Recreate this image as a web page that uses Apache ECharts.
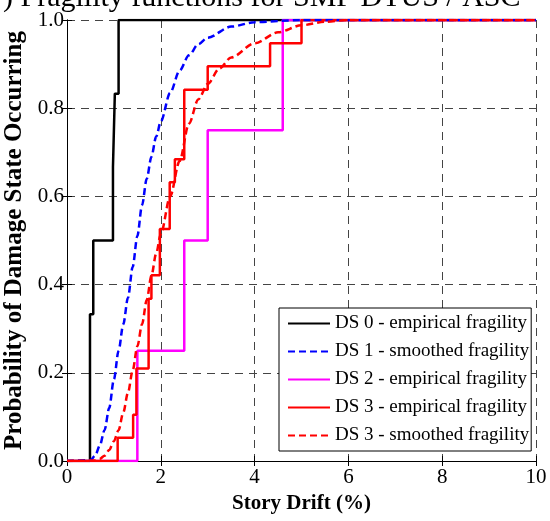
<!DOCTYPE html>
<html>
<head>
<meta charset="utf-8">
<script src="https://cdn.jsdelivr.net/npm/echarts@6/dist/echarts.min.js"></script>
<style>
  html, body { margin: 0; padding: 0; background: #fff; }
  #chart { width: 550px; height: 521px; }
</style>
</head>
<body>
<div id="chart"></div>
<script>
// DS 0 empirical (step)
var ds0X = [0, 0.49, 0.49, 0.56, 0.56, 0.98, 0.98, 1.02, 1.02, 1.1, 1.1, 10];
var ds0Y = [0, 0, 0.333, 0.333, 0.5, 0.5, 0.667, 0.667, 0.833, 0.833, 1, 1];

// DS 1 smoothed
var ds1X = [0, 0.5, 0.6, 0.7, 0.8, 0.9, 1.0, 1.1, 1.2, 1.3, 1.4, 1.5, 1.6, 1.7, 1.8, 1.9, 2.0, 2.2, 2.4, 2.6, 2.8, 3.0, 3.5, 4.0, 5.0, 10];
var ds1Y = [0, 0.002, 0.012, 0.035, 0.07, 0.12, 0.185, 0.25, 0.31, 0.37, 0.44, 0.51, 0.58, 0.64, 0.69, 0.735, 0.77, 0.835, 0.885, 0.92, 0.945, 0.96, 0.985, 0.995, 1, 1];

// DS 2 empirical (step)
var ds2X = [0, 1.5, 1.5, 2.5, 2.5, 3.0, 3.0, 4.6, 4.6, 10];
var ds2Y = [0, 0, 0.25, 0.25, 0.5, 0.5, 0.75, 0.75, 1, 1];

// DS 3 empirical (step)
var ds3X = [0, 1.08, 1.08, 1.41, 1.41, 1.48, 1.48, 1.74, 1.74, 1.8, 1.8, 1.98, 1.98, 2.19, 2.19, 2.3, 2.3, 2.5, 2.5, 3.0, 3.0, 4.33, 4.33, 5.0, 5.0, 10];
var ds3Y = [0, 0, 0.053, 0.053, 0.105, 0.105, 0.21, 0.21, 0.368, 0.368, 0.421, 0.421, 0.526, 0.526, 0.632, 0.632, 0.684, 0.684, 0.842, 0.842, 0.895, 0.895, 0.947, 0.947, 1, 1];

// DS 3 smoothed
var ds3sX = [0, 0.6, 0.7, 0.8, 0.9, 1.0, 1.1, 1.2, 1.3, 1.4, 1.5, 1.6, 1.7, 1.8, 1.9, 2.0, 2.2, 2.4, 2.6, 2.8, 3.0, 3.25, 3.5, 4.0, 4.5, 5.0, 5.5, 6.0, 10];
var ds3sY = [0, 0.001, 0.005, 0.012, 0.025, 0.045, 0.07, 0.11, 0.155, 0.205, 0.26, 0.31, 0.365, 0.42, 0.47, 0.515, 0.6, 0.68, 0.765, 0.82, 0.855, 0.89, 0.915, 0.947, 0.972, 0.988, 0.996, 1, 1];

var legendNames = [
  'DS 0 - empirical fragility',
  'DS 1 - smoothed fragility',
  'DS 2 - empirical fragility',
  'DS 3 - empirical fragility',
  'DS 3 - smoothed fragility'
];

function pairs(xs, ys) {
  return xs.map(function (x, i) { return [x, ys[i]]; });
}

var font = 'Liberation Serif';
var chart = echarts.init(document.getElementById('chart'));

function mkSeries(name, xs, ys, color, dashed) {
  return {
    name: name,
    type: 'line',
    data: pairs(xs, ys),
    symbol: 'none',
    smooth: dashed ? 0.3 : false,
    smoothMonotone: 'x',
    lineStyle: { color: color, width: 2.5, type: dashed ? [7, 4] : 'solid' },
    itemStyle: { color: color },
    z: dashed ? 3 : 2
  };
}

chart.setOption({
  animation: false,
  title: {
    text: ') Fragility functions for SMF DTUS / ASC',
    left: -2,
    top: -22,
    textStyle: { fontFamily: font, fontSize: 30, fontWeight: 'normal', color: '#000' }
  },
  grid: { left: 67, right: 14, top: 20, bottom: 60, outerBoundsMode: 'none', containLabel: false },
  legend: {
    orient: 'vertical',
    left: 279,
    top: 308,
    data: legendNames,
    backgroundColor: '#fff',
    borderColor: '#000',
    borderWidth: 1,
    borderRadius: 0,
    padding: [6, 2, 6, 8],
    itemWidth: 42,
    itemHeight: 14,
    itemGap: 9,
    itemStyle: { opacity: 0 },
    textStyle: { fontFamily: font, fontSize: 19, color: '#000' }
  },
  xAxis: [{
    type: 'value', min: 0, max: 10, interval: 2,
    name: 'Story Drift (%)', nameLocation: 'middle', nameGap: 30,
    nameTextStyle: { fontFamily: font, fontSize: 21, fontWeight: 'bold', color: '#000' },
    axisLine: { show: true, lineStyle: { color: '#000', width: 1 } },
    axisTick: { show: true, inside: true, length: 5, lineStyle: { color: '#000' } },
    axisLabel: { fontFamily: font, fontSize: 21, color: '#000', margin: 6 },
    splitLine: { show: true, lineStyle: { color: '#444', type: [8, 6], width: 1 } }
  }, {
    type: 'value', min: 0, max: 10, interval: 2, position: 'top',
    axisLine: { show: true, lineStyle: { color: '#000', width: 1 } },
    axisTick: { show: true, inside: true, length: 5, lineStyle: { color: '#000' } },
    axisLabel: { show: false },
    splitLine: { show: false }
  }],
  yAxis: [{
    type: 'value', min: 0, max: 1, interval: 0.2,
    name: 'Probability of Damage State Occurring', nameLocation: 'middle', nameGap: 30,
    nameTextStyle: { fontFamily: font, fontSize: 25, fontWeight: 'bold', color: '#000' },
    axisLine: { show: true, lineStyle: { color: '#000', width: 1 } },
    axisTick: { show: true, inside: true, length: 5, lineStyle: { color: '#000' } },
    axisLabel: { fontFamily: font, fontSize: 21, color: '#000', margin: 3,
      formatter: function (v) { return v.toFixed(1); } },
    splitLine: { show: true, lineStyle: { color: '#444', type: [8, 6], width: 1 } }
  }, {
    type: 'value', min: 0, max: 1, interval: 0.2, position: 'right',
    axisLine: { show: true, lineStyle: { color: '#000', width: 1 } },
    axisTick: { show: true, inside: true, length: 5, lineStyle: { color: '#000' } },
    axisLabel: { show: false },
    splitLine: { show: false }
  }],
  series: [
    mkSeries(legendNames[0], ds0X, ds0Y, '#000000', false),
    mkSeries(legendNames[1], ds1X, ds1Y, '#0000ff', true),
    mkSeries(legendNames[2], ds2X, ds2Y, '#ff00ff', false),
    mkSeries(legendNames[3], ds3X, ds3Y, '#ff0000', false),
    mkSeries(legendNames[4], ds3sX, ds3sY, '#ff0000', true)
  ]
});
</script>
</body>
</html>
